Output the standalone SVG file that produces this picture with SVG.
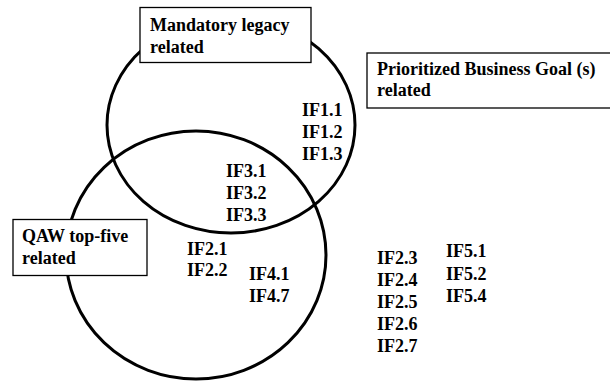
<svg xmlns="http://www.w3.org/2000/svg" width="610" height="381" viewBox="0 0 610 381">
  <style>
    .set { fill: none; stroke: #000; stroke-width: 3; }
    .box { fill: #fff; stroke: #000; stroke-width: 1.3; }
    .lbl { font-family: "Liberation Serif", "Times New Roman", serif; font-weight: bold; font-size: 18px; fill: #000; }
  </style>
  <defs>
    <!-- the long title runs past the right edge of its box -->
    <clipPath id="pbg-clip"><rect x="360" y="40" width="242" height="80"/></clipPath>
  </defs>
  <rect width="610" height="381" fill="#fff"/>

  <!-- set outlines -->
  <g id="sets">
    <ellipse id="set-legacy" class="set" cx="231" cy="125" rx="124" ry="108"/>
    <ellipse id="set-qaw" class="set" cx="196" cy="255" rx="130" ry="124"/>
  </g>

  <!-- set titles -->
  <g id="title-legacy">
    <rect class="box" x="140" y="7.5" width="171" height="55"/>
    <text class="lbl" x="150" y="31">Mandatory legacy</text>
    <text class="lbl" x="150" y="53">related</text>
  </g>
  <g id="title-business-goal">
    <rect class="box" x="367" y="53" width="250" height="55"/>
    <g clip-path="url(#pbg-clip)">
      <text class="lbl" x="377" y="75">Prioritized Business Goal (s)</text>
    </g>
    <text class="lbl" x="377" y="96">related</text>
  </g>
  <g id="title-qaw">
    <rect class="box" x="13" y="219.5" width="134" height="56"/>
    <text class="lbl" x="22" y="242">QAW top-five</text>
    <text class="lbl" x="22" y="264">related</text>
  </g>

  <!-- item groups -->
  <g id="items-if1">
    <text class="lbl" x="302" y="116">IF1.1</text>
    <text class="lbl" x="302" y="138">IF1.2</text>
    <text class="lbl" x="302" y="160">IF1.3</text>
  </g>
  <g id="items-if3">
    <text class="lbl" x="226" y="177">IF3.1</text>
    <text class="lbl" x="226" y="199">IF3.2</text>
    <text class="lbl" x="226" y="221">IF3.3</text>
  </g>
  <g id="items-if2a">
    <text class="lbl" x="187" y="255">IF2.1</text>
    <text class="lbl" x="187" y="276">IF2.2</text>
  </g>
  <g id="items-if4">
    <text class="lbl" x="249" y="280">IF4.1</text>
    <text class="lbl" x="249" y="302">IF4.7</text>
  </g>
  <g id="items-if2b">
    <text class="lbl" x="377" y="264">IF2.3</text>
    <text class="lbl" x="377" y="286">IF2.4</text>
    <text class="lbl" x="377" y="308">IF2.5</text>
    <text class="lbl" x="377" y="330">IF2.6</text>
    <text class="lbl" x="377" y="352">IF2.7</text>
  </g>
  <g id="items-if5">
    <text class="lbl" x="446" y="257">IF5.1</text>
    <text class="lbl" x="446" y="280">IF5.2</text>
    <text class="lbl" x="446" y="302">IF5.4</text>
  </g>
</svg>
